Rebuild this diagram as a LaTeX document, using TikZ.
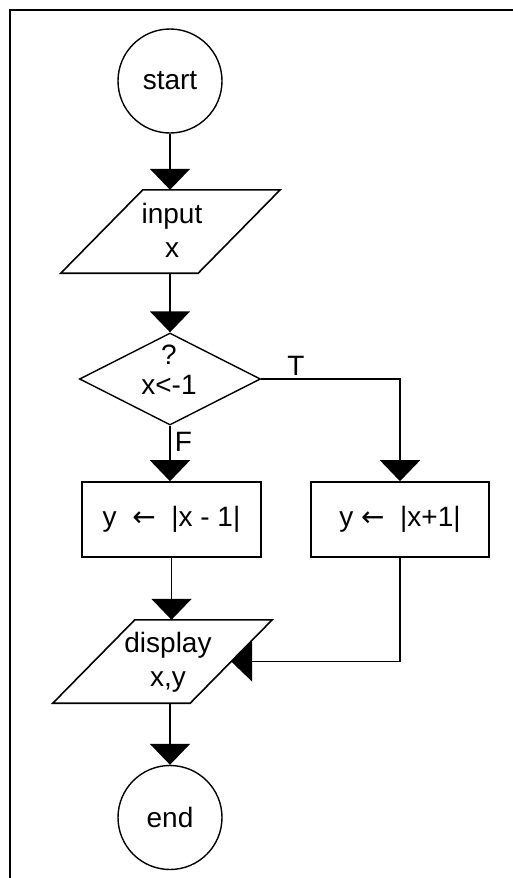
\documentclass[tikz,border=0pt]{standalone}
\usepackage{fontspec}
\setmainfont{Liberation Sans}
\newfontfamily\arrfont{DejaVu Sans}
\usetikzlibrary{shapes.geometric,arrows.meta}
\begin{document}
\begin{tikzpicture}[x=1pt,y=-1pt,
  every node/.style={font=\fontsize{28}{34}\selectfont},
  arr/.style={line width=1.8pt,-{Triangle[width=40pt,length=21pt]}},
  term/.style={circle,draw,line width=1.4pt,minimum size=104pt,inner sep=0pt},
  io/.style={rectangle,align=center,minimum width=137pt,minimum height=83pt,inner sep=0pt},
  iopath/.style={draw,line width=1.6pt,line join=miter},
  proc/.style={rectangle,draw,line width=1.6pt,minimum height=75pt,inner sep=0pt},
  dec/.style={diamond,draw,line width=1.4pt,minimum width=181pt,minimum height=92pt,inner sep=0pt},
  txt/.style={align=center,inner sep=0pt}]
\useasboundingbox (0,0) rectangle (513,878);
% frame (top and left)
\coordinate (fbl) at (10,878);
\coordinate (ftl) at (10,9.5);
\coordinate (ftr) at (513,9.5);
\draw[line width=2pt] (fbl) -- (ftl) -- (ftr);
% nodes
\node[term] (start) at (170,81) {start};
\node[io] (input) at (170.5,231.5) {};
\path[iopath] ([xshift=41pt]input.north west) -- ([xshift=41pt]input.north east)
  -- ([xshift=-41pt]input.south east) -- ([xshift=-41pt]input.south west) -- cycle;
\node[txt] (inputt) at (172,230) {input\\x};
\node[dec] (cond) at (170,379) {};
\node[txt,font=\fontsize{28}{30}\selectfont] (condt) at (169,370) {?\\x<-1};
\node[proc,minimum width=179pt] (lbox) at (171.5,519.5) {y~ {\arrfont ←} ~|x - 1|};
\node[proc,minimum width=178pt] (rbox) at (400,519.5) {y {\arrfont ←} ~|x+1|};
\node[io] (disp) at (162.5,661.5) {};
\path[iopath] ([xshift=41pt]disp.north west) -- ([xshift=41pt]disp.north east)
  -- ([xshift=-41pt]disp.south east) -- ([xshift=-41pt]disp.south west) -- cycle;
\node[txt] (dispt) at (168,662) {display\\x,y};
\node[term] (end) at (170,817.5) {end};
% connectors
\draw[arr] (start.south) -- (start.south |- input.north);
\draw[arr] (start.south |- input.south) -- (cond.north);
\draw[arr] (cond.south) -- node[right,pos=0.3,inner sep=4pt] (flab) {F} (cond.south |- lbox.north);
\draw[arr] (cond.east) -| node[above right,pos=0.08,inner sep=3pt] (tlab) {T} (rbox.north);
\draw[arr] (lbox.south) -- (lbox.south |- disp.north);
\draw[arr] (rbox.south) |- (disp.east);
\draw[arr] (end.north |- disp.south) -- (end.north);
\end{tikzpicture}
\end{document}
